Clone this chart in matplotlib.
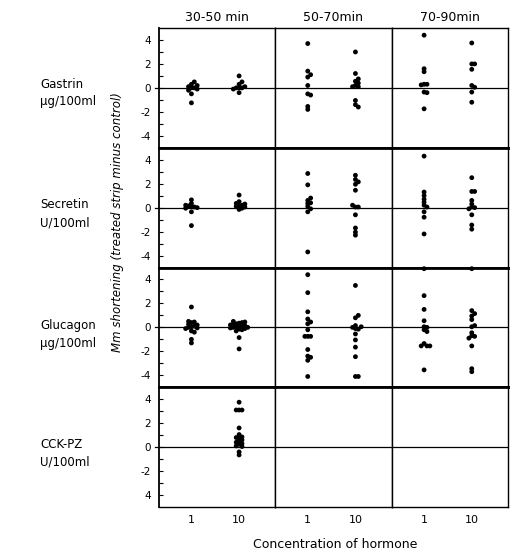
import numpy as np
import matplotlib
matplotlib.use('Agg')
import matplotlib.pyplot as plt

periods = ['30-50 min', '50-70min', '70-90min']
hormones = ['Gastrin\nμg/100ml', 'Secretin\nU/100ml', 'Glucagon\nμg/100ml', 'CCK-PZ\nU/100ml']
doses = ['1', '10']
ytick_vals = [4, 2, 0, -2, -4]
ytick_labels_std = ['4', '2', '0', '-2', '-4']
ytick_labels_last = ['4', '2', '0', '-2', '4']

# Gastrin
gastrin_30_1 = [0.5, 0.3, 0.2, 0.1, 0.0, 0.0, -0.1, -0.2, -0.5, -1.25]
gastrin_30_10 = [1.0, 0.5, 0.3, 0.1, 0.0, 0.0, 0.0, -0.1, -0.4]
gastrin_50_1 = [3.7, 1.4, 1.1, 0.9, 0.2, -0.6, -0.5, -1.55, -1.8]
gastrin_50_10 = [3.0, 1.2, 0.75, 0.55, 0.4, 0.2, 0.1, 0.1, -1.05, -1.4, -1.6]
gastrin_70_1 = [4.4, 1.6, 1.35, 0.3, 0.3, 0.25, -0.35, -0.4, -1.75]
gastrin_70_10 = [3.75, 2.0, 2.0, 1.55, 0.2, 0.05, -0.35, -1.2]
# Secretin
secretin_30_1 = [0.65, 0.35, 0.2, 0.15, 0.1, 0.05, 0.0, -0.05, -0.35, -1.5]
secretin_30_10 = [1.05, 0.5, 0.35, 0.3, 0.2, 0.15, 0.1, 0.05, -0.05, -0.15]
secretin_50_1 = [2.85, 1.9, 0.8, 0.6, 0.4, 0.35, 0.1, -0.1, -0.35, -3.7]
secretin_50_10 = [2.7, 2.35, 2.15, 1.95, 1.45, 0.2, 0.05, 0.05, -0.6, -1.7, -2.05, -2.3]
secretin_70_1 = [4.3, 1.3, 1.0, 0.7, 0.45, 0.2, 0.05, -0.35, -0.8, -2.2]
secretin_70_10 = [2.5, 1.35, 1.35, 0.6, 0.3, 0.05, 0.0, -0.1, -0.6, -1.45, -1.8]
# Glucagon
glucagon_30_1 = [1.7, 0.5, 0.45, 0.4, 0.25, 0.2, 0.1, 0.05, 0.0, -0.05, -0.1, -0.3, -0.4, -1.0, -1.3]
glucagon_30_10 = [0.5, 0.45, 0.4, 0.35, 0.3, 0.25, 0.2, 0.15, 0.1, 0.1, 0.05, 0.0, 0.0,
                  -0.05, -0.1, -0.15, -0.2, -0.3, -0.85, -1.8]
glucagon_50_1 = [4.4, 2.9, 1.3, 0.7, 0.45, 0.3, -0.2, -0.75, -0.75, -0.75, -1.85, -2.4, -2.5, -2.75, -4.1]
glucagon_50_10 = [3.5, 1.0, 0.8, 0.15, 0.05, 0.0, -0.1, -0.15, -0.55, -1.05, -1.65, -2.45, -4.1, -4.1]
glucagon_70_1 = [4.9, 2.65, 1.5, 0.55, 0.05, 0.0, -0.2, -0.35, -1.35, -1.55, -1.55, -1.55, -3.55]
glucagon_70_10 = [4.9, 1.4, 1.15, 0.95, 0.65, 0.15, 0.05, -0.45, -0.7, -0.75, -0.9, -1.55, -3.45, -3.7]
# CCK-PZ
cck_30_1 = []
cck_30_10 = [3.75, 3.1, 3.1, 3.1, 1.6, 1.05, 0.85, 0.8, 0.75, 0.6, 0.5, 0.4, 0.3, 0.25, 0.1, 0.05, -0.4, -0.65]

table = [
    [(gastrin_30_1, gastrin_30_10), (gastrin_50_1, gastrin_50_10), (gastrin_70_1, gastrin_70_10)],
    [(secretin_30_1, secretin_30_10), (secretin_50_1, secretin_50_10), (secretin_70_1, secretin_70_10)],
    [(glucagon_30_1, glucagon_30_10), (glucagon_50_1, glucagon_50_10), (glucagon_70_1, glucagon_70_10)],
    [(cck_30_1, cck_30_10), ([], []), ([], [])],
]

W, H = 511, 557
fig = plt.figure(figsize=(W / 100, H / 100), dpi=100)
left, right, top, bottom = 159 / W, 508 / W, 1 - 28 / H, 1 - 507 / H
gs = fig.add_gridspec(4, 3, left=left, right=right, top=top, bottom=bottom,
                      wspace=0, hspace=0)

XLIM = (0.32, 2.76)
YLIM = (-5, 5)
xpx_per_unit = 117 / (XLIM[1] - XLIM[0])
ypx_per_unit = 120 / (YLIM[1] - YLIM[0])


def swarm(values, d=2.9):
    """Horizontal offsets (data units) so dots do not pile on each other."""
    order = np.argsort(np.abs(np.asarray(values) - np.median(values)) if len(values) else [])
    placed = []
    offs = np.zeros(len(values))
    steps = [0]
    for k in range(1, 12):
        steps += [k * d, -k * d]
    for i in order:
        y = values[i] * ypx_per_unit
        for c in steps:
            if all((c - px) ** 2 + (y - py) ** 2 >= d * d for px, py in placed):
                placed.append((c, y))
                offs[i] = c / xpx_per_unit
                break
    return offs


for r in range(4):
    for c in range(3):
        ax = fig.add_subplot(gs[r, c])
        ax.set_xlim(*XLIM)
        ax.set_ylim(*YLIM)
        ax.axhline(0, color='black', lw=0.9, zorder=1)
        for k, vals in enumerate(table[r][c]):
            if len(vals) == 0:
                continue
            vals = list(vals)
            xo = swarm(vals)
            ax.scatter(np.full(len(vals), k + 1) + xo, vals, s=12, color='black',
                       edgecolors='none', zorder=3, clip_on=False)
        for side in ['top', 'bottom', 'left', 'right']:
            ax.spines[side].set_color('black')
            ax.spines[side].set_linewidth(1.0)
        if r > 0:
            ax.spines['top'].set_linewidth(2.0)
        if r < 3:
            ax.spines['bottom'].set_linewidth(2.0)
        if c == 0:
            ax.spines['left'].set_linewidth(1.3)
            ax.set_yticks(ytick_vals)
            ax.set_yticklabels(ytick_labels_last if r == 3 else ytick_labels_std, fontsize=7.5)
            ax.set_yticks([3, 1, -1, -3], minor=True)
            ax.tick_params(axis='y', which='both', direction='in', length=3, width=0.8, pad=6)
            ax.axhline(0, xmin=-0.035, xmax=0, color='black', lw=0.9, clip_on=False)
        else:
            ax.set_yticks([])
        ax.set_xticks([1, 2])
        if r == 3:
            ax.set_xticklabels(doses, fontsize=8)
            ax.tick_params(axis='x', length=0, pad=6)
        else:
            ax.set_xticklabels([])
            ax.tick_params(axis='x', length=0)
        if r == 0:
            ax.set_title(periods[c], fontsize=9, pad=5)

row_label_y = [93, 214, 334, 453]
for r, lab in enumerate(hormones):
    fig.text(40 / W, 1 - row_label_y[r] / H, lab, ha='left', va='center',
             fontsize=8.5, linespacing=1.5)

fig.text(118 / W, 1 - 222 / H, 'Mm shortening (treated strip minus control)',
         rotation=90, ha='center', va='center', fontsize=8.5, style='italic')
fig.text(335 / W, 1 - 545 / H, 'Concentration of hormone', ha='center', va='center',
         fontsize=9)

fig.savefig('out.png', dpi=100)
